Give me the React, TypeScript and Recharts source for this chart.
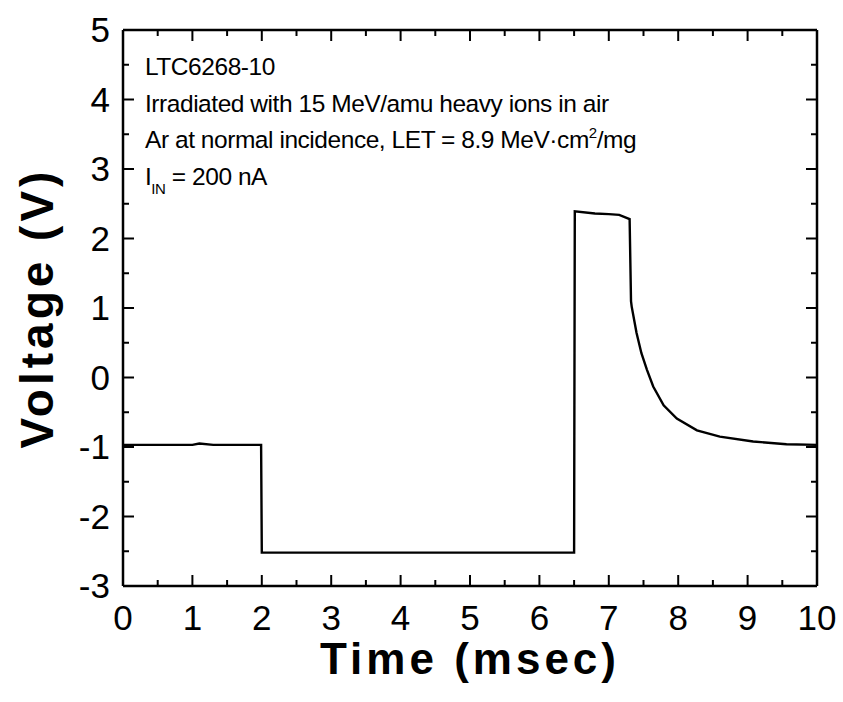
import { LineChart, Line, XAxis, YAxis } from "recharts";

// trace
const timeMs = [
  0, 0.5, 1.0, 1.1, 1.3, 1.6, 1.99, 2.0, 3.0, 4.0, 5.0, 6.0, 6.5, 6.51, 6.8,
  7.0, 7.15, 7.3, 7.32, 7.33, 7.4, 7.47, 7.55, 7.64, 7.79, 7.98, 8.27, 8.6,
  9.08, 9.56, 10.0,
];
const voltage = [
  -0.97, -0.97, -0.97, -0.95, -0.97, -0.97, -0.97, -2.52, -2.52, -2.52, -2.52,
  -2.52, -2.52, 2.39, 2.36, 2.35, 2.34, 2.28, 1.1, 1.02, 0.64, 0.35, 0.11,
  -0.13, -0.4, -0.59, -0.76, -0.85, -0.92, -0.96, -0.97,
];

const xTicks = [0, 0.5, 1, 1.5, 2, 2.5, 3, 3.5, 4, 4.5, 5, 5.5, 6, 6.5, 7, 7.5, 8, 8.5, 9, 9.5, 10];
const yTicks = [-3, -2.5, -2, -1.5, -1, -0.5, 0, 0.5, 1, 1.5, 2, 2.5, 3, 3.5, 4, 4.5, 5];

const notes = [
  "LTC6268-10",
  "Irradiated with 15 MeV/amu heavy ions in air",
  "Ar at normal incidence, LET = 8.9 MeV\u00b7cm",
];

const data = timeMs.map((t, i) => ({ t, v: voltage[i] }));

const FONT = "'Liberation Sans', Arial, sans-serif";
const isMajor = (v: number) => Number.isInteger(v);

function TickMark({ x, y, payload, side, label }: any) {
  const major = isMajor(payload.value);
  const len = major ? 11 : 6;
  const common = { stroke: "#000", strokeWidth: 2 };
  let line = null;
  if (side === "bottom") line = <line x1={x} x2={x} y1={y} y2={y - len} {...common} />;
  if (side === "top") line = <line x1={x} x2={x} y1={y} y2={y + len} {...common} />;
  if (side === "left") line = <line x1={x} x2={x + len} y1={y} y2={y} {...common} />;
  if (side === "right") line = <line x1={x} x2={x - len} y1={y} y2={y} {...common} />;
  return (
    <g>
      {line}
      {label && major && side === "bottom" && (
        <text x={x} y={y + 44} textAnchor="middle" fontSize={35} fontFamily={FONT} fill="#000">
          {payload.value}
        </text>
      )}
      {label && major && side === "left" && (
        <text x={x - 13} y={y + 12} textAnchor="end" fontSize={35} fontFamily={FONT} fill="#000">
          {payload.value}
        </text>
      )}
    </g>
  );
}

function Notes() {
  const x0 = 145;
  const y0 = 75;
  const step = 36.7;
  return (
    <g fontFamily={FONT} fontSize={24.5} letterSpacing={-0.45} fill="#000">
      <text x={x0} y={y0}>{notes[0]}</text>
      <text x={x0} y={y0 + step}>{notes[1]}</text>
      <text x={x0} y={y0 + step * 2}>
        {notes[2]}
        <tspan dy={-10} fontSize={15}>2</tspan>
        <tspan dy={10}>/mg</tspan>
      </text>
      <text x={x0} y={y0 + step * 3}>
        I<tspan dy={9} fontSize={15}>IN</tspan>
        <tspan dy={-9}> = 200 nA</tspan>
      </text>
    </g>
  );
}

function YTitle({ viewBox }: any) {
  const cx = viewBox.x + 53;
  const cy = viewBox.y + viewBox.height / 2;
  return (
    <text
      x={cx}
      y={cy}
      transform={`rotate(-90, ${cx}, ${cy})`}
      textAnchor="middle"
      fontSize={46}
      fontWeight="bold"
      letterSpacing={4}
      fontFamily={FONT}
      fill="#000"
    >
      Voltage (V)
    </text>
  );
}

function XTitle({ viewBox }: any) {
  const cx = viewBox.x + viewBox.width / 2;
  return (
    <text
      x={cx}
      y={viewBox.y + 88}
      textAnchor="middle"
      fontSize={44}
      fontWeight="bold"
      letterSpacing={4}
      fontFamily={FONT}
      fill="#000"
    >
      Time (msec)
    </text>
  );
}

export default function App() {
  return (
    <div style={{ position: "absolute", left: 0, top: 0, width: 843, height: 702, background: "#fff" }}>
      <LineChart width={843} height={702} data={data} margin={{ top: 29, right: 25, left: 0, bottom: 0 }}>
        <XAxis
          xAxisId="b"
          dataKey="t"
          type="number"
          domain={[0, 10]}
          ticks={xTicks}
          interval={0}
          height={116}
          tickSize={0.001}
          tickMargin={0}
          tickLine={false}
          axisLine={{ stroke: "#000", strokeWidth: 2.5 }}
          tick={<TickMark side="bottom" label />}
          label={{ content: XTitle }}
        />
        <XAxis
          xAxisId="top"
          orientation="top"
          dataKey="t"
          type="number"
          domain={[0, 10]}
          ticks={xTicks}
          interval={0}
          height={1}
          tickSize={0.001}
          tickMargin={0}
          tickLine={false}
          axisLine={{ stroke: "#000", strokeWidth: 2.5 }}
          tick={<TickMark side="top" />}
          label={{ content: Notes }}
        />
        <YAxis
          yAxisId="l"
          type="number"
          domain={[-3, 5]}
          ticks={yTicks}
          interval={0}
          width={123}
          tickSize={0.001}
          tickMargin={0}
          tickLine={false}
          axisLine={{ stroke: "#000", strokeWidth: 2.5 }}
          tick={<TickMark side="left" label />}
          label={{ content: YTitle }}
        />
        <YAxis
          yAxisId="r"
          orientation="right"
          type="number"
          domain={[-3, 5]}
          ticks={yTicks}
          interval={0}
          width={1}
          tickSize={0.001}
          tickMargin={0}
          tickLine={false}
          axisLine={{ stroke: "#000", strokeWidth: 2.5 }}
          tick={<TickMark side="right" />}
        />
        {/* invisible copy so the top/right frame axes get drawn */}
        <Line
          xAxisId="top"
          yAxisId="r"
          dataKey="v"
          stroke="none"
          dot={false}
          legendType="none"
          isAnimationActive={false}
        />
        <Line
          xAxisId="b"
          yAxisId="l"
          dataKey="v"
          type="linear"
          stroke="#000"
          strokeWidth={2.4}
          dot={false}
          isAnimationActive={false}
        />
      </LineChart>
    </div>
  );
}
